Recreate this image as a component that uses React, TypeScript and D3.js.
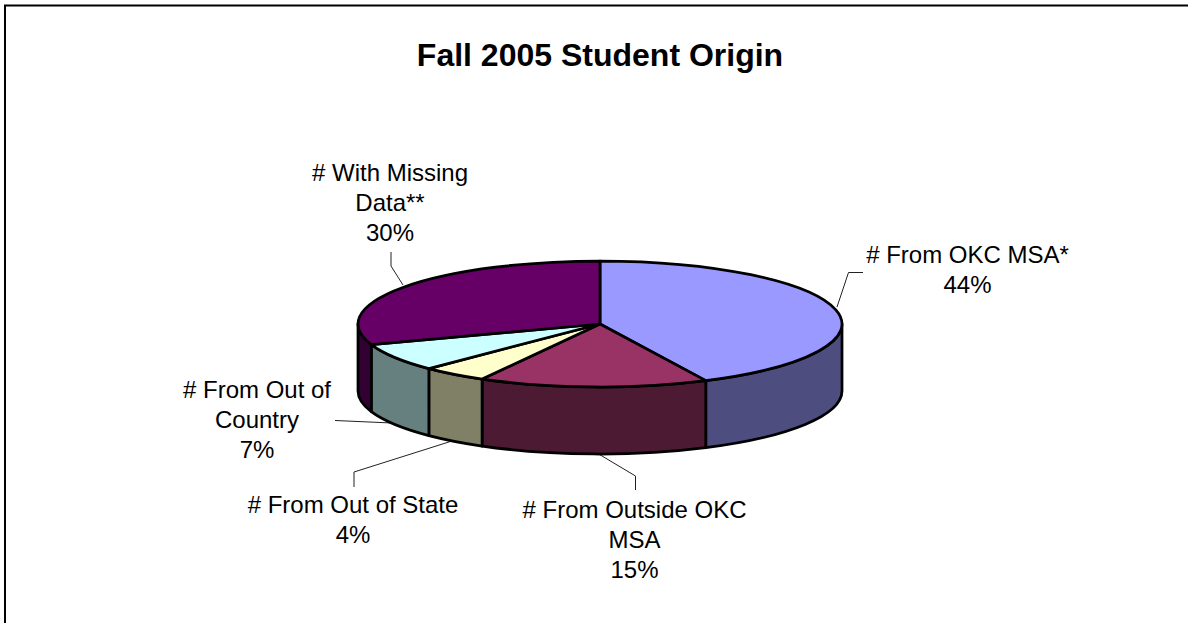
import React from "react";
import * as d3 from "d3";

const categories = ["# From OKC MSA*", "# From Outside OKC MSA", "# From Out of State", "# From Out of Country", "# With Missing Data**"];
const shares = [42.8, 15.3, 4.4, 7.2, 30.3];
const percentLabels = ["44%", "15%", "4%", "7%", "30%"];
const topColors = ["#9999FF", "#993366", "#FFFFCC", "#CCFFFF", "#660066"];
const sideColors = ["#4D4D80", "#4D1A33", "#808066", "#668080", "#330033"];

const labelLines = [
  ["# From OKC MSA*", percentLabels[0]],
  ["# From Outside OKC", "MSA", percentLabels[1]],
  ["# From Out of State", percentLabels[2]],
  ["# From Out of", "Country", percentLabels[3]],
  ["# With Missing", "Data**", percentLabels[4]],
];
const labelAnchors: [number, number][] = [[967.5, 263], [634.5, 518], [353, 513], [257, 398], [390, 180.5]];
const leaders: [number, number][][] = [
  [[837, 307], [848.5, 272.5], [863, 272.5]],
  [[597, 453], [635.5, 476], [635.5, 490]],
  [[452, 441], [354, 472], [354, 487]],
  [[392, 423], [335, 420.5]],
  [[403, 285], [391, 266], [391, 252]],
];

const cx = 600, cy = 324, rx = 242, ry = 63, depth = 67;
const rScaleX = d3.scaleLinear().domain([-1, 1]).range([cx - rx, cx + rx]);
const rScaleY = d3.scaleLinear().domain([-1, 1]).range([cy - ry, cy + ry]);
const pt = (a: number, dy = 0): [number, number] => [rScaleX(Math.sin(a)), rScaleY(-Math.cos(a)) + dy];

const pie = d3.pie<number>().sort(null).value((d) => d);
const slices = pie(shares);

const arcTo = (a: number, b: number, dy = 0, sweep = 1) => {
  const [x, y] = pt(b, dy);
  const large = Math.abs(b - a) > Math.PI ? 1 : 0;
  return `A${rx},${ry} 0 ${large} ${sweep} ${x},${y}`;
};
const topPath = (a: number, b: number) => {
  const [sx, sy] = pt(a);
  return `M${cx},${cy}L${sx},${sy}${arcTo(a, b)}Z`;
};
const sidePath = (a0: number, b0: number) => {
  const a = Math.max(a0, Math.PI / 2);
  const b = Math.min(b0, (3 * Math.PI) / 2);
  if (b <= a) return null;
  const [sx, sy] = pt(a);
  const [ex, ey] = pt(b, depth);
  return `M${sx},${sy}${arcTo(a, b)}L${ex},${ey}${arcTo(b, a, depth, 0)}Z`;
};
const line = d3.line();
const strokeW = 2.75;

export default function App() {
  return (
    <svg width={1188} height={623} style={{ position: "absolute", left: 0, top: 0, background: "#fff" }}>
      <path d="M5,623V5.5H1188" fill="none" stroke="#000" strokeWidth={2} />
      <text x={600} y={66} textAnchor="middle" fontFamily="Liberation Sans" fontWeight="bold" fontSize={32} fill="#000">
        Fall 2005 Student Origin
      </text>
      {leaders.map((l, i) => (
        <path key={i} d={line(l) || ""} fill="none" stroke="#222" strokeWidth={1} />
      ))}
      {slices.map((s, i) => {
        const d = sidePath(s.startAngle, s.endAngle);
        return d ? <path key={i} d={d} fill={sideColors[i]} stroke="#000" strokeWidth={strokeW} strokeLinejoin="round" /> : null;
      })}
      {slices.map((s, i) => (
        <path key={categories[i]} d={topPath(s.startAngle, s.endAngle)} fill={topColors[i]} stroke="#000" strokeWidth={strokeW} strokeLinejoin="round" />
      ))}
      {labelLines.map((lines, i) => (
        <text key={i} textAnchor="middle" fontFamily="Liberation Sans" fontSize={24} fill="#000">
          {lines.map((t, j) => (
            <tspan key={j} x={labelAnchors[i][0]} y={labelAnchors[i][1] + j * 30}>{t}</tspan>
          ))}
        </text>
      ))}
    </svg>
  );
}
